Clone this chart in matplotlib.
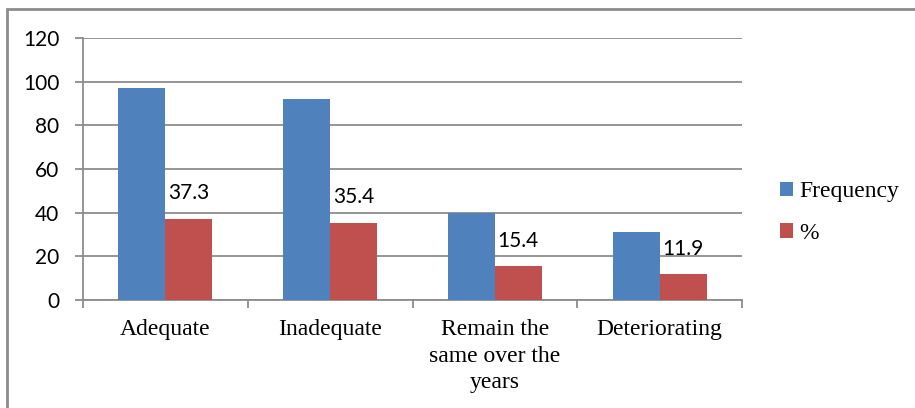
import matplotlib.pyplot as plt
import numpy as np
from matplotlib.patches import Rectangle

categories = ["Adequate", "Inadequate", "Remain the\nsame over the\nyears", "Deteriorating"]
frequency = [97, 92, 40, 31]
percent = [37.3, 35.4, 15.4, 11.9]

blue = "#4F81BD"
red = "#C0504D"
grid_gray = "#8C8C8C"

fig = plt.figure(figsize=(9.15, 4.08), dpi=100)
W, H = 915, 408
ax = fig.add_axes([83 / W, 1 - 300 / H, (742 - 83) / W, (300 - 38) / H])

x = np.arange(len(categories))
bw = 0.285
ax.bar(x - bw / 2, frequency, bw, color=blue, label="Frequency", zorder=3)
ax.bar(x + bw / 2, percent, bw, color=red, label="%", zorder=3)

for xi, v in zip(x, percent):
    ax.text(xi + bw / 2, v + 7.0, f"{v}", ha="center", va="bottom",
            fontsize=15, family="Lato", color="black", zorder=4)

ax.set_xlim(-0.5, len(categories) - 0.5)
ax.set_ylim(0, 120)
ax.set_yticks(range(0, 121, 20))
ax.yaxis.grid(True, color=grid_gray, lw=1.3, zorder=0)
ax.set_axisbelow(True)

for s in ["top", "right"]:
    ax.spines[s].set_visible(False)
for s in ["left", "bottom"]:
    ax.spines[s].set_color(grid_gray)
    ax.spines[s].set_linewidth(1.3)

ax.tick_params(axis="y", length=6, width=1.3, color=grid_gray, pad=11,
               labelsize=15)
for lab in ax.get_yticklabels():
    lab.set_family("Lato")

# category ticks sit on the group boundaries, labels at the centres
ax.set_xticks(np.arange(-0.5, len(categories), 1.0))
ax.set_xticklabels([])
ax.tick_params(axis="x", which="major", length=6, width=1.3, color=grid_gray)
ax.set_xticks(x, minor=True)
ax.set_xticklabels(categories, minor=True, family="Liberation Serif",
                   fontsize=17, linespacing=1.32)
ax.tick_params(axis="x", which="minor", length=0, pad=14)

leg = fig.legend(loc="upper left", bbox_to_anchor=(780 / W, 1 - 181 / H),
                 frameon=False, prop={"family": "Liberation Serif", "size": 17},
                 handlelength=0.55, handleheight=0.55, handletextpad=0.25,
                 labelspacing=0.88, borderpad=0, borderaxespad=0)

# outer chart-area border
fig.patches.append(Rectangle((7 / W, -0.1), 1.2, 1.1 - 9 / H,
                             transform=fig.transFigure, fill=False,
                             edgecolor="#8C8C8C", lw=2))

fig.savefig("out.png", dpi=100)
